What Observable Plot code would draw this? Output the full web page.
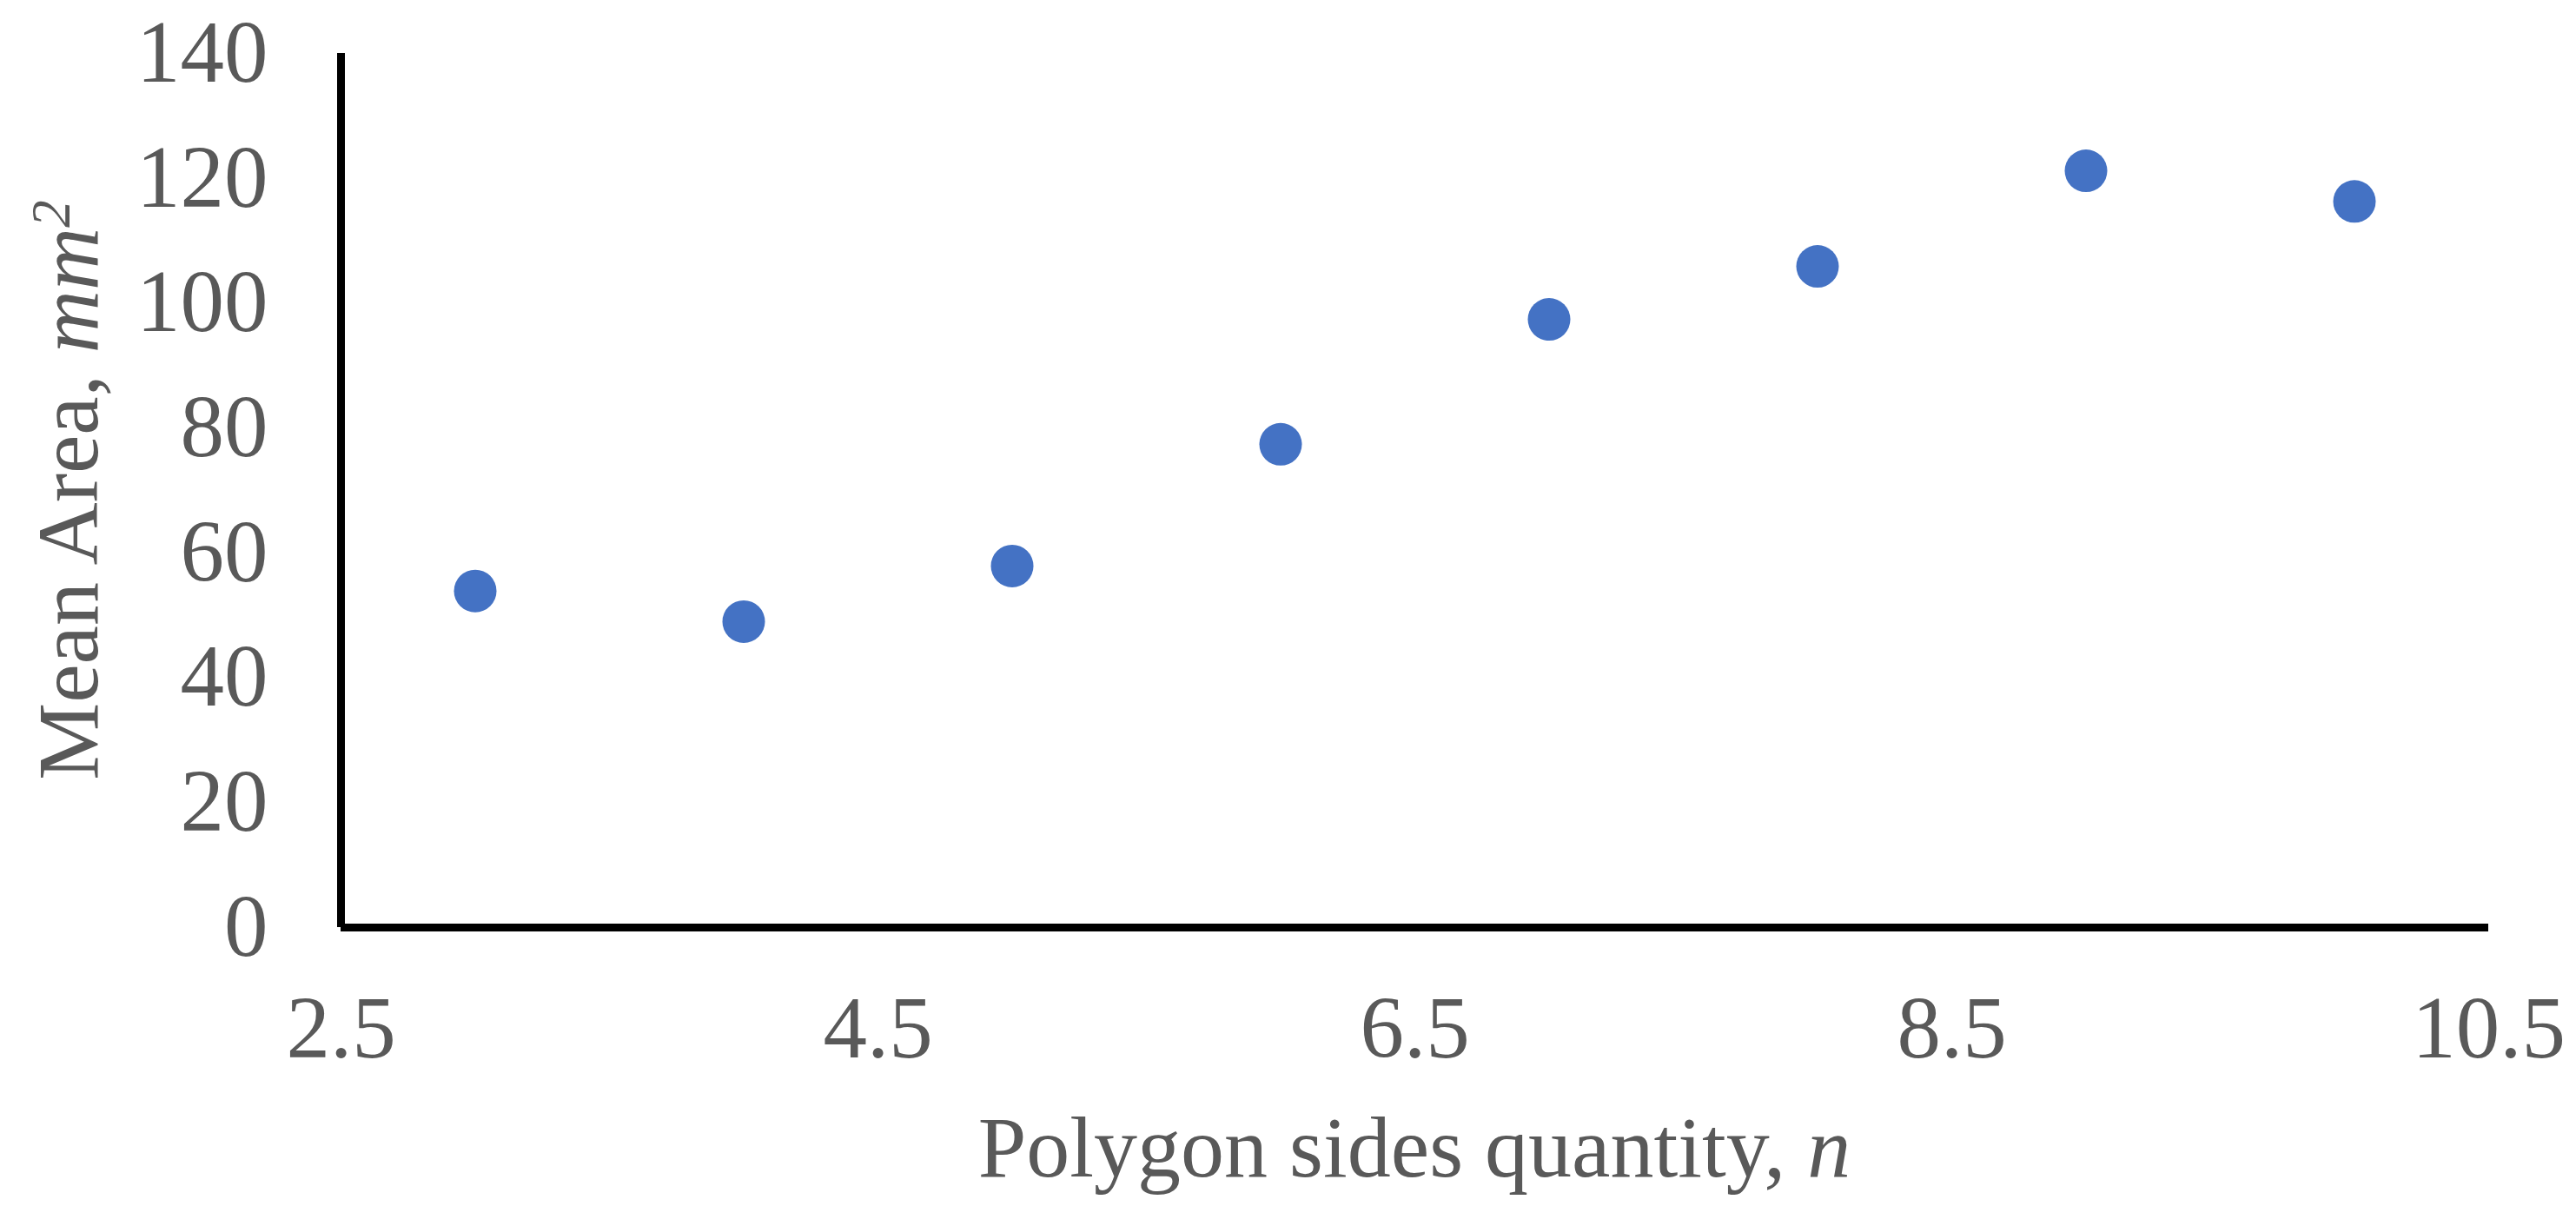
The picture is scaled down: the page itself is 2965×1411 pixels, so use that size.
<!DOCTYPE html>
<html>
<head>
<meta charset="utf-8">
<script src="https://cdn.jsdelivr.net/npm/d3@7"></script>
<script src="https://cdn.jsdelivr.net/npm/@observablehq/plot@0.6"></script>
<style>
  html, body { margin: 0; padding: 0; background: #fff; }
</style>
</head>
<body>
<div id="chart"></div>
<script>
// Data
const sides = [3, 4, 5, 6, 7, 8, 9, 10];
const meanArea = [53.9, 49.0, 57.9, 77.4, 97.4, 105.9, 121.2, 116.3];
const xTicks = [2.5, 4.5, 6.5, 8.5, 10.5];
const yTicks = [0, 20, 40, 60, 80, 100, 120, 140];

const data = sides.map((n, i) => ({n, area: meanArea[i]}));

const W = 2965, H = 1411;
const mL = 392, mR = 101, mT = 61, mB = 344;
const textColor = "#595959";
const font = "'Liberation Serif', 'Times New Roman', serif";

const chart = Plot.plot({
  width: W,
  height: H,
  marginLeft: mL,
  marginRight: mR,
  marginTop: mT,
  marginBottom: mB,
  style: {fontFamily: font, fontSize: "101px", color: textColor, background: "#fff", overflow: "visible"},
  x: {domain: [2.5, 10.5]},
  y: {domain: [0, 140]},
  marks: [
    Plot.axisX({ticks: xTicks, tickFormat: d3.format(".1f"), tickSize: 0, tickPadding: 78, label: null, fontSize: 101}),
    Plot.axisY({ticks: yTicks, tickFormat: d3.format("d"), tickSize: 0, tickPadding: 84, label: null, fontSize: 101}),
    Plot.ruleX([2.5], {stroke: "#000", strokeWidth: 9}),
    Plot.ruleY([0], {stroke: "#000", strokeWidth: 9}),
    Plot.dot(data, {x: "n", y: "area", r: 24.5, fill: "#4472C4", stroke: "none"})
  ]
});

document.getElementById("chart").appendChild(chart);

// Axis titles with mixed italic / superscript, appended as real SVG text
const svg = d3.select(chart);
const cx = mL + (W - mL - mR) / 2;
const cy = mT + (H - mT - mB) / 2;

const xl = svg.append("text")
  .attr("x", cx).attr("y", 1354)
  .attr("text-anchor", "middle")
  .attr("fill", textColor)
  .style("font-family", font)
  .style("font-size", "100px");
xl.append("tspan").text("Polygon sides quantity, ");
xl.append("tspan").attr("font-style", "italic").text("n");

const yl = svg.append("text")
  .attr("transform", `translate(112,${cy}) rotate(-90)`)
  .attr("text-anchor", "middle")
  .attr("fill", textColor)
  .style("font-family", font)
  .style("font-size", "100px");
yl.append("tspan").text("Mean Area, ");
yl.append("tspan").attr("font-style", "italic").text("mm");
yl.append("tspan").attr("font-style", "italic").attr("font-size", "63px").attr("dy", -32).text("2");
</script>
</body>
</html>
